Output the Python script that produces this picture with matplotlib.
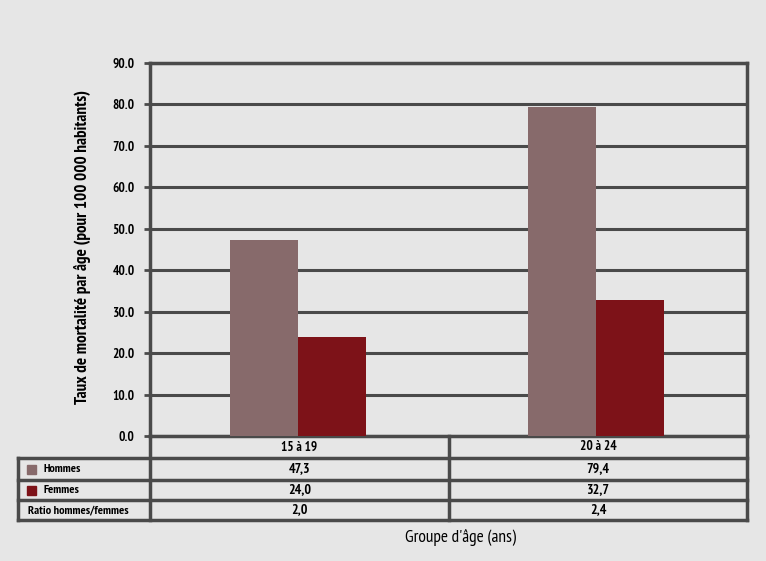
import matplotlib
matplotlib.use("Agg")
import matplotlib.pyplot as plt
from matplotlib.lines import Line2D
from matplotlib.patches import Rectangle
import numpy as np

categories = ["15 à 19", "20 à 24"]
hommes = [47.3, 79.4]
femmes = [24.0, 32.7]
ratio = ["2,0", "2,4"]
hommes_lbl = ["47,3", "79,4"]
femmes_lbl = ["24,0", "32,7"]
yticks = [0, 10, 20, 30, 40, 50, 60, 70, 80, 90]

c_h = "#876a6b"
c_f = "#7d1218"
c_grid = "#4a4a4a"
bg = "#e6e6e6"

plt.rcParams['font.family'] = ['PT Sans Narrow', 'DejaVu Sans']

W, H = 766, 561
fig = plt.figure(figsize=(W/100, H/100), dpi=100, facecolor=bg)

def fx(px): return px / W
def fy(py): return 1 - py / H

L, R, T, B = 150, 747, 63, 436
ax = fig.add_axes([fx(L), fy(B), fx(R) - fx(L), fy(T) - fy(B)], facecolor=bg)
x = np.arange(len(categories))
bw = 0.228
ax.bar(x - bw/2 - 0.005, hommes, bw, color=c_h, zorder=3)
ax.bar(x + bw/2 - 0.005, femmes, bw, color=c_f, zorder=3)
ax.set_xlim(-0.5, 1.5)
ax.set_ylim(0, 90)
ax.set_yticks(yticks)
ax.set_yticklabels([f"{v:.1f}" for v in yticks], fontsize=9.5, fontweight='bold')
ax.set_xticks([])
ax.yaxis.grid(True, color=c_grid, linewidth=2.2, zorder=1)
ax.tick_params(axis='y', length=4, width=2, color=c_grid, pad=7)
for s in ax.spines.values():
    s.set_color(c_grid)
    s.set_linewidth(2.5)
ax.set_ylabel("Taux de mortalité par âge (pour 100 000 habitants)", fontsize=12.3, fontweight='bold', va='center')
ax.yaxis.set_label_coords((83 - L) / (R - L), (B - 247.5) / (B - T))

# table
lw = 2.5
def hline(y, x0, x1):
    fig.add_artist(Line2D([fx(x0), fx(x1)], [fy(y), fy(y)], color=c_grid, lw=lw, solid_capstyle='projecting'))
def vline(xp, y0, y1):
    fig.add_artist(Line2D([fx(xp), fx(xp)], [fy(y0), fy(y1)], color=c_grid, lw=lw, solid_capstyle='projecting'))

rows_y = [436, 458, 480, 500, 520]
for y in rows_y[1:]:
    hline(y, 18, R)
vline(18, 458, 520)
vline(L, 436, 520)
vline(449, 436, 520)
vline(R, 436, 520)

col_centers = [(L + 449) / 2, (449 + R) / 2]
row_data = [categories, hommes_lbl, femmes_lbl, ratio]
for i, vals in enumerate(row_data):
    yc = (rows_y[i] + rows_y[i + 1]) / 2
    for j, v in enumerate(vals):
        fig.text(fx(col_centers[j]), fy(yc), v, ha='center', va='center', fontsize=10 if i else 9.5, fontweight='bold')

labels = ["Hommes", "Femmes", "Ratio hommes/femmes"]
for i, lab in enumerate(labels):
    yc = (rows_y[i + 1] + rows_y[i + 2]) / 2
    if i < 2:
        fig.add_artist(Rectangle((fx(27), fy(yc + 4.5)), fx(9), fy(0) - fy(9), color=[c_h, c_f][i],
                                 transform=fig.transFigure))
        fig.text(fx(43), fy(yc), lab, ha='left', va='center', fontsize=8.8, fontweight='bold')
    else:
        fig.text(fx(28), fy(yc), lab, ha='left', va='center', fontsize=8.8, fontweight='bold')

fig.text(fx(461), fy(538), "Groupe d'âge (ans)", ha='center', va='center', fontsize=12.5)

fig.savefig("out.png", dpi=100, facecolor=bg)
